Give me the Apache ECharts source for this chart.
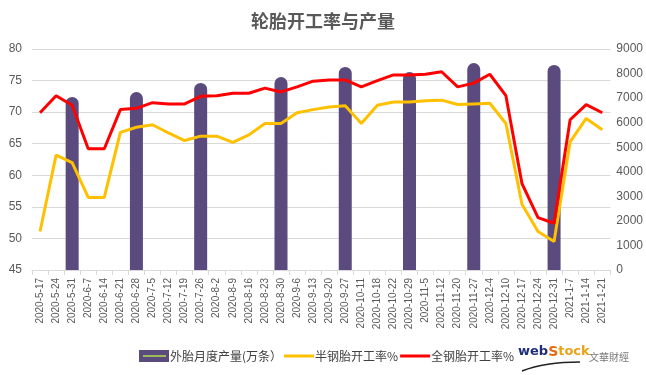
<!DOCTYPE html>
<html>
<head>
<meta charset="utf-8">
<script src="https://cdn.jsdelivr.net/npm/echarts@6/dist/echarts.min.js"></script>
<style>
  html, body { margin: 0; padding: 0; background: #fff; }
  #chart { width: 646px; height: 375px; }
</style>
</head>
<body>
<div id="chart"></div>
<script>
// 周度日期
var dates = ['2020-5-17', '2020-5-24', '2020-5-31', '2020-6-7', '2020-6-14', '2020-6-21', '2020-6-28',
    '2020-7-5', '2020-7-12', '2020-7-19', '2020-7-26', '2020-8-2', '2020-8-9', '2020-8-16', '2020-8-23',
    '2020-8-30', '2020-9-6', '2020-9-13', '2020-9-20', '2020-9-27', '2020-10-11', '2020-10-18',
    '2020-10-22', '2020-10-29', '2020-11-5', '2020-11-12', '2020-11-20', '2020-11-27', '2020-12-4',
    '2020-12-10', '2020-12-17', '2020-12-24', '2020-12-31', '2021-1-7', '2021-1-14', '2021-1-21'];

// 外胎月度产量(万条)，只在月末有值
var output = [null, null, 7050, null, null, null, 7250, null, null, null, 7620, null, null, null, null,
    7860, null, null, null, 8270, null, null, null, 8060, null, null, null, 8430, null, null, null, null,
    8350, null, null, null];

// 半钢胎开工率%
var semiSteel = [51.1, 63.2, 62.0, 56.5, 56.5, 66.8, 67.6, 68.0, 66.7, 65.5, 66.2, 66.2, 65.2, 66.4,
    68.2, 68.2, 69.9, 70.4, 70.8, 71.0, 68.2, 71.1, 71.6, 71.6, 71.8, 71.9, 71.2, 71.3, 71.4, 68.2,
    55.4, 51.1, 49.5, 65.3, 69.0, 67.2];

// 全钢胎开工率%
var allSteel = [69.9, 72.6, 71.1, 64.2, 64.2, 70.4, 70.6, 71.5, 71.3, 71.3, 72.5, 72.6, 73.0, 73.0,
    73.8, 73.2, 74.0, 74.9, 75.1, 75.1, 74.0, 75.0, 75.9, 75.9, 76.0, 76.4, 74.0, 74.6, 76.0, 72.6,
    58.7, 53.3, 52.4, 68.8, 71.2, 69.9];

var leftTicks = { min: 45, max: 80, interval: 5 };
var rightTicks = { min: 0, max: 9000, interval: 1000 };

var chart = echarts.init(document.getElementById('chart'));
var labelColor = '#595959';

var option = {
    animation: false,
    title: {
        text: '轮胎开工率与产量',
        left: 'center',
        top: 7,
        textStyle: { fontFamily: 'Noto Sans CJK SC', fontSize: 18, fontWeight: 'bold', color: '#595959' }
    },
    legend: {
        left: 134,
        top: 345,
        itemGap: 2,
        itemWidth: 30,
        itemHeight: 12,
        textStyle: { fontFamily: 'Noto Sans CJK SC', fontSize: 12, lineHeight: 12, color: '#404040', padding: [0, 0, 0, -4] },
        data: [
            { name: '外胎月度产量(万条）', icon: 'rect' },
            { name: '半钢胎开工率%', icon: 'path://M0,5 L30,5 L30,8 L0,8 Z' },
            { name: '全钢胎开工率%', icon: 'path://M0,5 L30,5 L30,8 L0,8 Z' }
        ]
    },
    grid: { left: 32, right: 34, top: 49, bottom: 105 },
    xAxis: {
        type: 'category',
        data: dates,
        axisLine: { lineStyle: { color: '#d9d9d9' } },
        axisTick: { show: true, length: 5, lineStyle: { color: '#d9d9d9' } },
        axisLabel: { rotate: 90, interval: 0, fontSize: 10, color: labelColor, fontFamily: 'Liberation Sans' }
    },
    yAxis: [{
        type: 'value',
        min: leftTicks.min,
        max: leftTicks.max,
        interval: leftTicks.interval,
        axisLine: { show: false },
        axisTick: { show: false },
        axisLabel: { fontSize: 12, color: labelColor, margin: 10 },
        splitLine: { lineStyle: { color: '#d9d9d9' } }
    }, {
        type: 'value',
        min: rightTicks.min,
        max: rightTicks.max,
        interval: rightTicks.interval,
        axisLine: { show: false },
        axisTick: { show: false },
        axisLabel: {
            fontSize: 12, color: labelColor, margin: 6,
            formatter: function (v) { return String(v); }
        },
        splitLine: { show: false }
    }],
    series: [{
        name: '外胎月度产量(万条）',
        type: 'bar',
        yAxisIndex: 1,
        data: output,
        barWidth: 13,
        z: 1,
        itemStyle: { color: '#5a4a7e', borderRadius: [7, 7, 0, 0] }
    }, {
        name: '半钢胎开工率%',
        type: 'line',
        data: semiSteel,
        symbol: 'none',
        z: 3,
        lineStyle: { width: 3, color: '#ffc000' },
        itemStyle: { color: '#ffc000' }
    }, {
        name: '全钢胎开工率%',
        type: 'line',
        data: allSteel,
        symbol: 'none',
        z: 4,
        lineStyle: { width: 3, color: '#ff0000' },
        itemStyle: { color: '#ff0000' }
    }],
    graphic: [{
        // 图例中柱子图标上的绿色线条
        type: 'rect',
        left: 143,
        top: 355,
        shape: { width: 23, height: 2 },
        style: { fill: '#9bbb59' },
        z: 100
    }, {
        type: 'text',
        left: 518,
        top: 345,
        style: {
            text: '{a|web}{b|S}{c|tock}',
            rich: {
                a: { fontFamily: 'DejaVu Sans', fontWeight: 'bold', fontSize: 13, fill: '#1f2d7a' },
                b: { fontFamily: 'DejaVu Sans', fontWeight: 'bold', fontSize: 14, fill: '#e66a10' },
                c: { fontFamily: 'DejaVu Sans', fontWeight: 'bold', fontSize: 13, fill: '#e8a317' }
            }
        }
    }, {
        type: 'text',
        left: 589,
        top: 352,
        style: { text: '文華財經', fontFamily: 'Noto Sans CJK TC', fontSize: 10, fill: '#777' }
    }, {
        type: 'bezierCurve',
        shape: { x1: 522, y1: 371, x2: 580, y2: 362, cpx1: 545, cpy1: 362 },
        style: { stroke: '#222', lineWidth: 1.5, fill: null }
    }]
};

chart.setOption(option);
</script>
</body>
</html>
